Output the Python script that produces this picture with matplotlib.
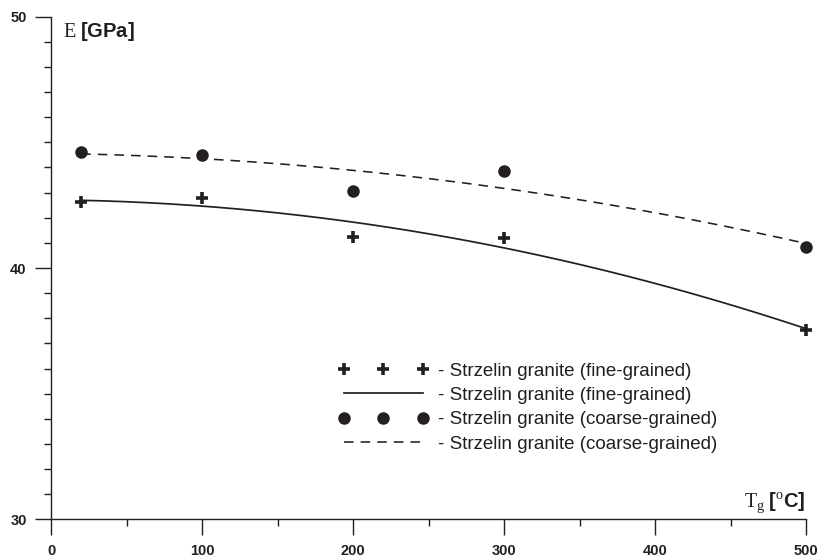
import numpy as np
import matplotlib.pyplot as plt
from matplotlib.ticker import MultipleLocator
from matplotlib.lines import Line2D
from matplotlib.legend_handler import HandlerLine2D

# E modulus [GPa], temperature Tg [degC]
temp = [20, 100, 200, 300, 500]
e_fine = [42.64, 42.77, 41.25, 41.18, 37.53]
e_coarse = [44.63, 44.50, 43.08, 43.86, 40.85]

label_fine = "- Strzelin granite (fine-grained)"
label_coarse = "- Strzelin granite (coarse-grained)"

plt.rcParams['font.family'] = ['Liberation Sans', 'DejaVu Sans']
plt.rcParams['mathtext.fontset'] = 'custom'
plt.rcParams['mathtext.rm'] = 'Liberation Serif'
plt.rcParams['mathtext.it'] = 'Liberation Serif:italic'
plt.rcParams['mathtext.bf'] = 'Liberation Sans:bold'

ink = '#231f20'

fig = plt.figure(figsize=(8.19, 5.59), dpi=100)
ax = fig.add_axes([51 / 819, 1 - 519.3 / 559, 755 / 819, 502.6 / 559])

# quadratic trend lines fitted to the measured points
xs = np.linspace(temp[0], temp[-1], 200)
fit_fine = np.polyval(np.polyfit(temp, e_fine, 2), xs)
fit_coarse = np.polyval(np.polyfit(temp, e_coarse, 2), xs)

ax.plot(temp, e_fine, ls='none', marker='+', ms=8.5, mew=2.6, color=ink,
        clip_on=False, label=label_fine)
ax.plot(xs, fit_fine, '-', lw=1.25, color=ink, label=label_fine)
ax.plot(temp, e_coarse, ls='none', marker='o', ms=8, color=ink,
        clip_on=False, label=label_coarse)
ax.plot(xs, fit_coarse, lw=1.15, color=ink, dashes=(6, 4.4),
        label=label_coarse)

ax.set_xlim(0, 500)
ax.set_ylim(30, 50)
ax.spines['top'].set_visible(False)
ax.spines['right'].set_visible(False)
for s in ['left', 'bottom']:
    ax.spines[s].set_linewidth(1)
    ax.spines[s].set_color(ink)

ax.xaxis.set_major_locator(MultipleLocator(100))
ax.xaxis.set_minor_locator(MultipleLocator(50))
ax.yaxis.set_major_locator(MultipleLocator(10))
ax.yaxis.set_minor_locator(MultipleLocator(1))
ax.tick_params(which='major', direction='out', length=11.5, width=1,
               pad=6, labelsize=10.5, color=ink, labelcolor=ink)
ax.tick_params(which='minor', direction='out', length=5, width=1, color=ink)
for lab in ax.get_xticklabels() + ax.get_yticklabels():
    lab.set_fontweight('bold')

ax.text(0.016, 0.960, r'$\mathrm{E}\ \mathbf{[GPa]}$', transform=ax.transAxes,
        fontsize=14.5, ha='left', va='baseline', color=ink)
ax.text(1.0, 0.0245, r'$\mathrm{T_g}\ \mathbf{[^{\mathrm{o}}C]}$',
        transform=ax.transAxes, fontsize=14.5, ha='right', va='baseline',
        color=ink)

ax.legend(loc='upper left', bbox_to_anchor=(344 / 819, 1 - 362.5 / 559),
          bbox_transform=fig.transFigure, frameon=False, numpoints=3,
          handlelength=4.21, handletextpad=0.8, labelspacing=0.385,
          borderpad=0, borderaxespad=0, fontsize=13.5, labelcolor=ink,
          handler_map={Line2D: HandlerLine2D(marker_pad=0)})

fig.savefig('out.png', dpi=100)
